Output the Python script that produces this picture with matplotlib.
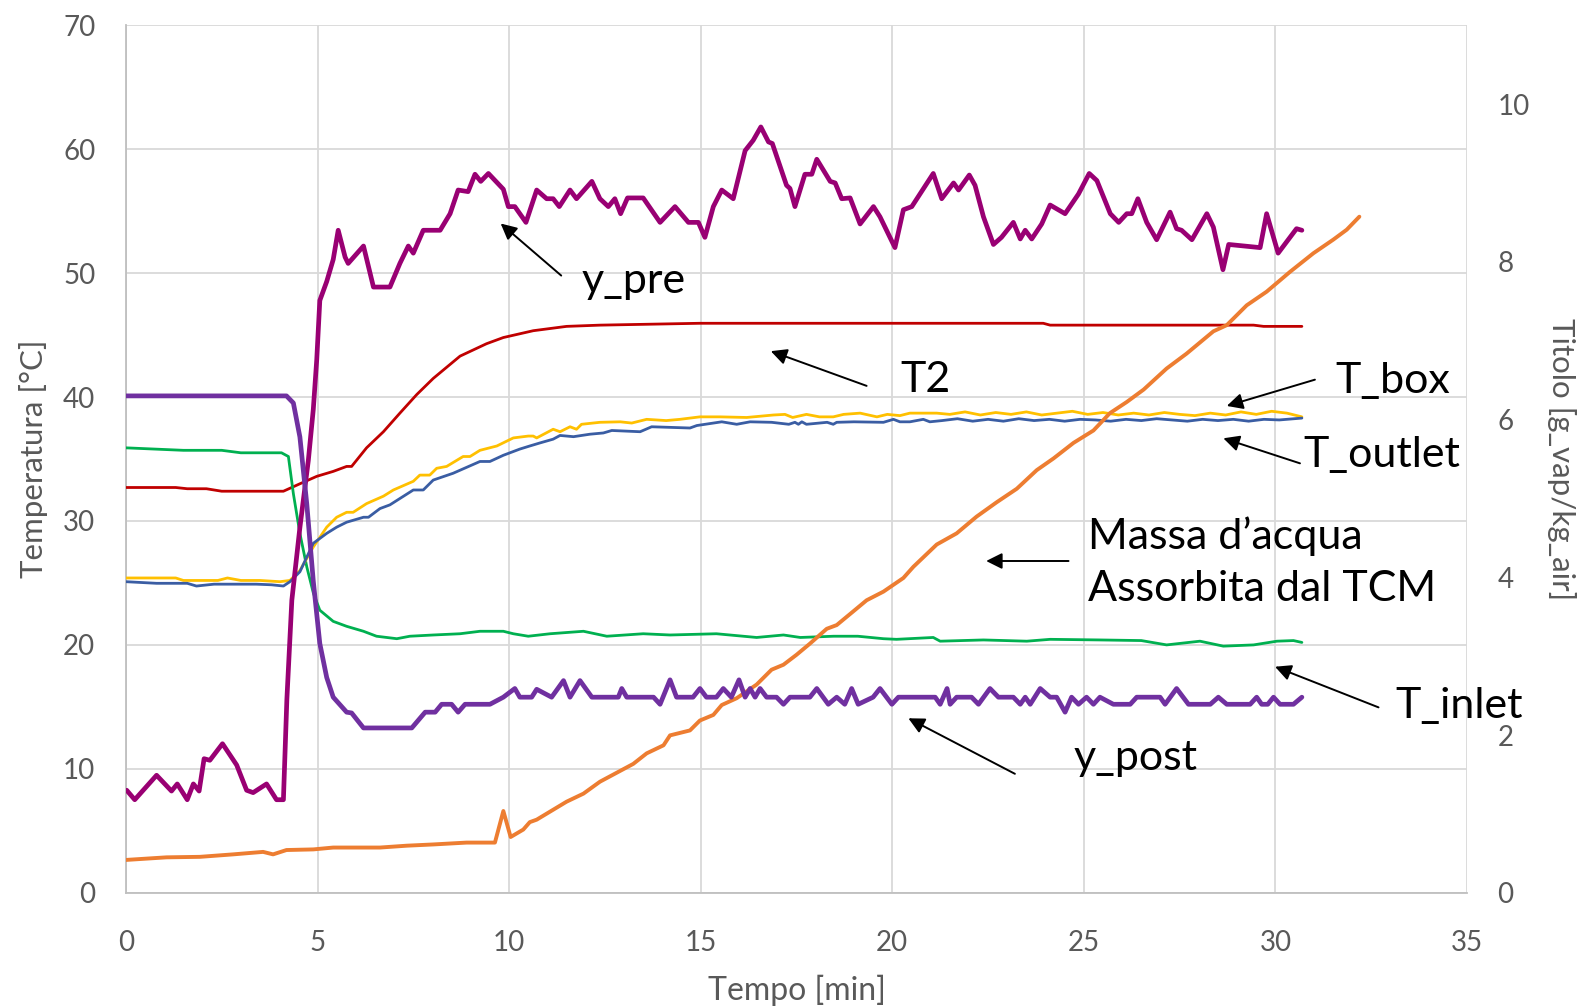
import matplotlib
matplotlib.use("Agg")
import matplotlib.pyplot as plt

# --- dati (tempo in minuti) ---
t_pre = [0.02, 0.23, 0.8, 1.19, 1.34, 1.6, 1.76, 1.91, 2.04, 2.19, 2.52, 2.89, 3.15, 3.32, 3.67,
         3.93, 4.11, 4.2, 4.33, 4.54, 4.76, 4.89, 4.98, 5.06, 5.24, 5.41, 5.54, 5.72, 5.8, 6.2,
         6.46, 6.89, 7.15, 7.37, 7.5, 7.76, 8.2, 8.46, 8.67, 8.93, 9.11, 9.26, 9.46, 9.85, 9.98,
         10.15, 10.44, 10.72, 10.98, 11.15, 11.31, 11.59, 11.76, 12.16, 12.37, 12.59, 12.76,
         12.91, 13.09, 13.5, 13.94, 14.33, 14.68, 14.94, 15.11, 15.33, 15.55, 15.85, 16.16,
         16.37, 16.57, 16.77, 16.87, 17.24, 17.33, 17.46, 17.72, 17.9, 18.03, 18.38, 18.51,
         18.68, 18.9, 19.16, 19.51, 19.68, 20.07, 20.29, 20.51, 21.07, 21.29, 21.6, 21.73,
         22.01, 22.16, 22.38, 22.64, 22.85, 23.16, 23.34, 23.47, 23.64, 23.9, 24.12, 24.51,
         24.86, 25.14, 25.34, 25.69, 25.91, 26.12, 26.25, 26.41, 26.64, 26.9, 27.25, 27.42,
         27.55, 27.82, 28.21, 28.38, 28.63, 28.78, 29.6, 29.77, 30.07, 30.38, 30.55, 30.69]
y_pre = [1.30, 1.18, 1.49, 1.29, 1.38, 1.18, 1.38, 1.29, 1.70, 1.68, 1.89, 1.62, 1.30, 1.27, 1.38,
         1.18, 1.18, 2.45, 3.71, 4.63, 5.48, 6.13, 6.76, 7.51, 7.75, 8.03, 8.40, 8.06, 7.98, 8.20,
         7.68, 7.68, 7.98, 8.20, 8.11, 8.40, 8.40, 8.61, 8.91, 8.89, 9.11, 9.02, 9.12, 8.92, 8.70,
         8.70, 8.50, 8.91, 8.80, 8.80, 8.70, 8.91, 8.80, 9.02, 8.80, 8.70, 8.80,
         8.61, 8.81, 8.81, 8.50, 8.70, 8.50, 8.50, 8.31, 8.70, 8.91, 8.80, 9.41,
         9.54, 9.71, 9.52, 9.50, 8.97, 8.93, 8.70, 9.11, 9.11, 9.30, 9.02, 9.00,
         8.80, 8.81, 8.48, 8.70, 8.57, 8.18, 8.66, 8.70, 9.12, 8.80, 9.00, 8.91,
         9.10, 8.97, 8.57, 8.22, 8.31, 8.50, 8.29, 8.40, 8.29, 8.48, 8.72, 8.61,
         8.86, 9.12, 9.03, 8.61, 8.50, 8.61, 8.61, 8.80, 8.50, 8.28, 8.63, 8.42,
         8.40, 8.28, 8.61, 8.44, 7.90, 8.22, 8.18, 8.61, 8.11, 8.31, 8.42, 8.40]

t_post = [0, 4.19, 4.37, 4.54, 4.72, 4.89, 5.06, 5.24, 5.41, 5.76, 5.89, 6.2, 7.46, 7.81, 8.07,
          8.24, 8.5, 8.67, 8.85, 9.5, 9.85, 10.15, 10.28, 10.59, 10.72, 11.11, 11.42, 11.59,
          11.85, 12.16, 12.85, 12.94, 13.07, 13.77, 13.94, 14.2, 14.37, 14.8, 14.98, 15.15,
          15.41, 15.59, 15.8, 16.0, 16.16, 16.29, 16.42, 16.55, 16.72, 16.98, 17.16, 17.33,
          17.85, 18.03, 18.33, 18.55, 18.76, 18.94, 19.11, 19.5, 19.68, 19.99, 20.16, 21.12,
          21.25, 21.43, 21.51, 21.68, 22.07, 22.25, 22.55, 22.77, 23.16, 23.34, 23.47, 23.6,
          23.86, 24.12, 24.29, 24.51, 24.68, 24.86, 25.07, 25.25, 25.42, 25.77, 26.21, 26.38,
          26.99, 27.12, 27.42, 27.73, 28.3, 28.51, 28.73, 29.34, 29.51, 29.64, 29.8, 29.95,
          30.12, 30.47, 30.69]
y_post = [6.30, 6.30, 6.21, 5.78, 4.93, 3.95, 3.16, 2.73, 2.48, 2.29, 2.28, 2.09, 2.09, 2.29, 2.29,
          2.39, 2.39, 2.29, 2.39, 2.39, 2.48, 2.59, 2.48, 2.48, 2.58, 2.48, 2.69, 2.48,
          2.69, 2.48, 2.48, 2.59, 2.48, 2.48, 2.39, 2.70, 2.48, 2.48, 2.59, 2.48,
          2.48, 2.59, 2.48, 2.70, 2.48, 2.59, 2.48, 2.59, 2.48, 2.48, 2.39, 2.48,
          2.48, 2.59, 2.39, 2.48, 2.39, 2.59, 2.39, 2.48, 2.59, 2.39, 2.48, 2.48,
          2.39, 2.59, 2.39, 2.48, 2.48, 2.39, 2.59, 2.48, 2.48, 2.39, 2.48, 2.39,
          2.59, 2.48, 2.48, 2.29, 2.48, 2.39, 2.48, 2.39, 2.48, 2.39, 2.39, 2.48,
          2.48, 2.39, 2.59, 2.39, 2.39, 2.48, 2.39, 2.39, 2.48, 2.39, 2.39, 2.48,
          2.39, 2.39, 2.48]

t_massa = [0, 1.06, 1.93, 2.8, 3.58, 3.84, 4.19, 4.89, 5.41, 6.63, 7.33, 8.02, 8.89, 9.63, 9.85,
           10.04, 10.37, 10.54, 10.72, 11.5, 11.94, 12.37, 13.24, 13.59, 14.03, 14.2, 14.72,
           14.98, 15.33, 15.55, 15.94, 16.46, 16.85, 17.16, 17.5, 17.85, 18.29, 18.55, 18.98,
           19.33, 19.77, 20.29, 20.55, 21.16, 21.68, 22.2, 22.72, 23.25, 23.77, 24.21, 24.73,
           25.25, 25.68, 26.12, 26.56, 27.16, 27.68, 28.38, 28.73, 29.25, 29.77, 30.38, 30.99,
           31.51, 31.86, 32.19]
massa = [2.65, 2.86, 2.9, 3.1, 3.3, 3.1, 3.45, 3.5, 3.65, 3.65, 3.8, 3.9, 4.05, 4.05, 6.6,
         4.5, 5.1, 5.7, 5.9, 7.35, 8.0, 8.96, 10.4, 11.25, 11.9, 12.7, 13.1,
         13.9, 14.35, 15.15, 15.7, 16.8, 18.0, 18.4, 19.2, 20.1, 21.3, 21.6, 22.7,
         23.6, 24.3, 25.4, 26.3, 28.1, 29.0, 30.35, 31.5, 32.6, 34.1, 35.05, 36.3,
         37.3, 38.7, 39.6, 40.6, 42.3, 43.5, 45.3, 45.8, 47.4, 48.5, 50.1, 51.6,
         52.7, 53.5, 54.55]

t_T2 = [0, 1.3, 1.6, 2.1, 2.5, 4.11, 4.54, 4.98, 5.41, 5.76, 5.89, 6.28, 6.72, 7.15, 7.59, 8.02,
        8.72, 9.41, 9.85, 10.63, 11.5, 12.37, 14.98, 22.81, 23.94, 24.12, 29.43, 29.69, 30.69]
T2 = [32.7, 32.7, 32.6, 32.6, 32.4, 32.4, 33.0, 33.6, 34.0, 34.4, 34.4, 35.9, 37.2, 38.7, 40.2, 41.5,
      43.3, 44.3, 44.8, 45.35, 45.7, 45.8, 45.95, 45.95, 45.95, 45.8, 45.8, 45.7, 45.7]

t_inlet = [0, 1.5, 2.5, 3.0, 4.06, 4.24, 4.37, 4.54, 4.72, 4.89, 5.06, 5.41, 5.76, 6.2, 6.54, 7.07,
           7.41, 8.02, 8.72, 9.24, 9.85, 10.11, 10.5, 11.07, 11.94, 12.55, 13.5, 14.2, 15.41,
           16.46, 17.16, 17.6, 18.47, 19.1, 19.77, 20.11, 21.07, 21.25, 22.38, 23.51, 24.12,
           25.42, 26.5, 27.16, 28.03, 28.64, 29.43, 30.04, 30.47, 30.69]
T_inlet = [35.9, 35.7, 35.7, 35.5, 35.5, 35.2, 32.2, 29.0, 26.3, 24.2, 22.8, 21.9, 21.5, 21.1, 20.7, 20.5,
           20.7, 20.8, 20.9, 21.1, 21.1, 20.9, 20.7, 20.9, 21.1, 20.7, 20.9, 20.8, 20.9,
           20.6, 20.8, 20.6, 20.7, 20.7, 20.5, 20.45, 20.6, 20.3, 20.4, 20.3, 20.45,
           20.4, 20.35, 20.0, 20.3, 19.9, 20.0, 20.3, 20.35, 20.2]

t_box = [0, 1.3, 1.5, 2.4, 2.65, 3.0, 3.5, 4.02, 4.28, 4.54, 4.89, 5.24, 5.5, 5.76, 5.93, 6.28,
         6.72, 6.98, 7.5, 7.67, 7.93, 8.11, 8.37, 8.8, 8.98, 9.24, 9.68, 10.11, 10.5, 10.63,
         10.72, 11.15, 11.33, 11.59, 11.76, 11.89, 12.37, 12.9, 13.2, 13.59, 14.1, 14.46, 14.98,
         15.5, 16.2, 16.9, 17.2, 17.4, 17.76, 18.1, 18.46, 18.73, 19.16, 19.6, 19.87, 20.2,
         20.46, 21.16, 21.5, 21.9, 22.3, 22.7, 23.1, 23.5, 23.9, 24.3, 24.7, 25.1, 25.5, 25.9,
         26.3, 26.7, 27.1, 27.5, 27.9, 28.3, 28.7, 29.1, 29.5, 29.9, 30.3, 30.69]
T_box = [25.4, 25.4, 25.2, 25.2, 25.4, 25.2, 25.2, 25.1, 25.2, 26.0, 27.9, 29.5, 30.3, 30.7, 30.7, 31.4,
         32.0, 32.5, 33.2, 33.7, 33.7, 34.25, 34.4, 35.2, 35.2, 35.7, 36.05, 36.7, 36.85, 36.85,
         36.7, 37.4, 37.2, 37.6, 37.4, 37.8, 37.96, 38.0, 37.9, 38.2, 38.1, 38.2, 38.4,
         38.4, 38.35, 38.55, 38.6, 38.35, 38.6, 38.4, 38.4, 38.6, 38.7, 38.4, 38.6, 38.5,
         38.7, 38.7, 38.6, 38.8, 38.55, 38.75, 38.6, 38.8, 38.55, 38.7, 38.85, 38.6, 38.75, 38.55,
         38.7, 38.55, 38.75, 38.6, 38.5, 38.7, 38.55, 38.8, 38.6, 38.85, 38.7, 38.4]

t_outlet = [0, 0.8, 1.6, 1.84, 2.3, 3.4, 3.8, 4.11, 4.28, 4.54, 4.89, 5.24, 5.5, 5.76, 6.2, 6.33,
            6.63, 6.89, 7.5, 7.76, 8.02, 8.54, 9.24, 9.5, 9.85, 10.28, 10.54, 10.81, 11.15, 11.33,
            11.68, 12.11, 12.46, 12.68, 13.42, 13.72, 14.72, 14.9, 15.55, 15.94, 16.29, 16.85,
            17.3, 17.46, 17.55, 17.64, 17.76, 18.3, 18.46, 18.55, 19.0, 19.77, 20.03, 20.2,
            20.46, 20.81, 20.98, 21.3, 21.7, 22.1, 22.5, 22.9, 23.3, 23.7, 24.1, 24.5, 24.9,
            25.3, 25.7, 26.1, 26.5, 26.9, 27.3, 27.7, 28.1, 28.5, 28.9, 29.3, 29.7, 30.1, 30.69]
T_outlet = [25.1, 24.97, 24.97, 24.75, 24.9, 24.9, 24.85, 24.75, 25.1, 25.9, 28.2, 29.0, 29.5, 29.9, 30.3, 30.3,
            31.0, 31.3, 32.5, 32.5, 33.3, 33.85, 34.8, 34.8, 35.3, 35.8, 36.05, 36.3, 36.6, 36.9,
            36.8, 37.0, 37.1, 37.3, 37.2, 37.6, 37.5, 37.7, 38.0, 37.8, 38.0, 37.96,
            37.8, 37.96, 37.8, 38.0, 37.8, 37.96, 37.8, 37.96, 38.0, 37.96, 38.2, 38.0,
            38.0, 38.2, 38.0, 38.1, 38.25, 38.05, 38.2, 38.05, 38.25, 38.1, 38.2, 38.05, 38.2,
            38.15, 38.05, 38.2, 38.1, 38.25, 38.15, 38.05, 38.2, 38.1, 38.2, 38.05, 38.2, 38.15, 38.3]

x_ticks = [0, 5, 10, 15, 20, 25, 30, 35]
left_ticks = [0, 10, 20, 30, 40, 50, 60, 70]
right_ticks = [0, 2, 4, 6, 8, 10]

GRAY = "#595959"
FONT = "Lato"
plt.rcParams["font.family"] = [FONT, "DejaVu Sans"]

fig = plt.figure(figsize=(15.8, 10.08), dpi=100)
ax = fig.add_axes([0.0797, 0.1143, 0.8488, 0.8607])

line_kw = dict(solid_joinstyle="round", solid_capstyle="round")
ax.plot(t_T2, T2, color="#C00000", lw=2.0, zorder=3, **line_kw)
ax.plot(t_inlet, T_inlet, color="#00B050", lw=2.0, zorder=3, **line_kw)
ax.plot(t_box, T_box, color="#FFC000", lw=2.0, zorder=3, **line_kw)
ax.plot(t_outlet, T_outlet, color="#3A5DA3", lw=2.0, zorder=3, **line_kw)
ax.plot(t_massa, massa, color="#ED7D31", lw=2.8, zorder=4, **line_kw)

ax.set_xlim(0, 35)
ax.set_ylim(0, 70)
ax.set_xticks(x_ticks)
ax.set_yticks(left_ticks)
ax.grid(True, color="#D9D9D9", lw=1.3)
ax.set_axisbelow(True)
for side in ["top", "right"]:
    ax.spines[side].set_visible(False)
for side in ["left", "bottom"]:
    ax.spines[side].set_color("#BFBFBF")
    ax.spines[side].set_linewidth(1.3)
ax.tick_params(length=0, labelsize=20, colors=GRAY, pad=22)
ax.tick_params(axis="x", pad=27)
ax.set_xlabel("Tempo [min]", fontsize=23, color=GRAY)
ax.xaxis.set_label_coords(0.5, -0.094)
ax.set_ylabel("Temperatura [°C]", fontsize=22.5, color=GRAY)
ax.yaxis.set_label_coords(-0.058, 0.5)

ax2 = ax.twinx()
ax2.plot(t_pre, y_pre, color="#990073", lw=3.4, zorder=5, **line_kw)
ax2.plot(t_post, y_post, color="#7030A0", lw=3.4, zorder=5, **line_kw)
ax2.set_ylim(0, 11)
ax2.set_yticks(right_ticks)
for side in ax2.spines:
    ax2.spines[side].set_visible(False)
ax2.tick_params(length=0, labelsize=20, colors=GRAY, pad=22)
ax2.set_ylabel("Titolo [g_vap/kg_air]", fontsize=22.5, color=GRAY, rotation=270)
ax2.yaxis.set_label_coords(1.081, 0.5)

# --- etichette con frecce (coordinate del grafico a sinistra) ---
arrow = dict(arrowstyle="-|>", color="black", lw=1.4, mutation_scale=24, shrinkA=0, shrinkB=0)
labels = [
    ("y_pre", (11.9, 49.4), (11.36, 49.8), (9.78, 54.0)),
    ("T2", (20.2, 41.4), (19.33, 40.9), (16.83, 43.7)),
    ("T_box", (31.56, 41.3), (31.03, 41.4), (28.73, 39.28)),
    ("T_outlet", (30.73, 35.3), (30.64, 34.65), (28.64, 36.67)),
    ("Massa d’acqua\nAssorbita dal TCM", (25.12, 26.7), (24.6, 26.77), (22.45, 26.77)),
    ("T_inlet", (33.14, 15.1), (32.69, 14.96), (29.99, 18.24)),
    ("y_post", (24.72, 10.9), (23.2, 9.6), (20.42, 14.08)),
]
for text, pos, tail, head in labels:
    ax.annotate("", xy=head, xytext=tail, arrowprops=arrow, annotation_clip=False, zorder=6)
    ax.text(pos[0], pos[1], text, fontsize=31, ha="left", va="center", color="black",
            linespacing=1.45, clip_on=False, zorder=6)

fig.savefig("out.png", dpi=100)
